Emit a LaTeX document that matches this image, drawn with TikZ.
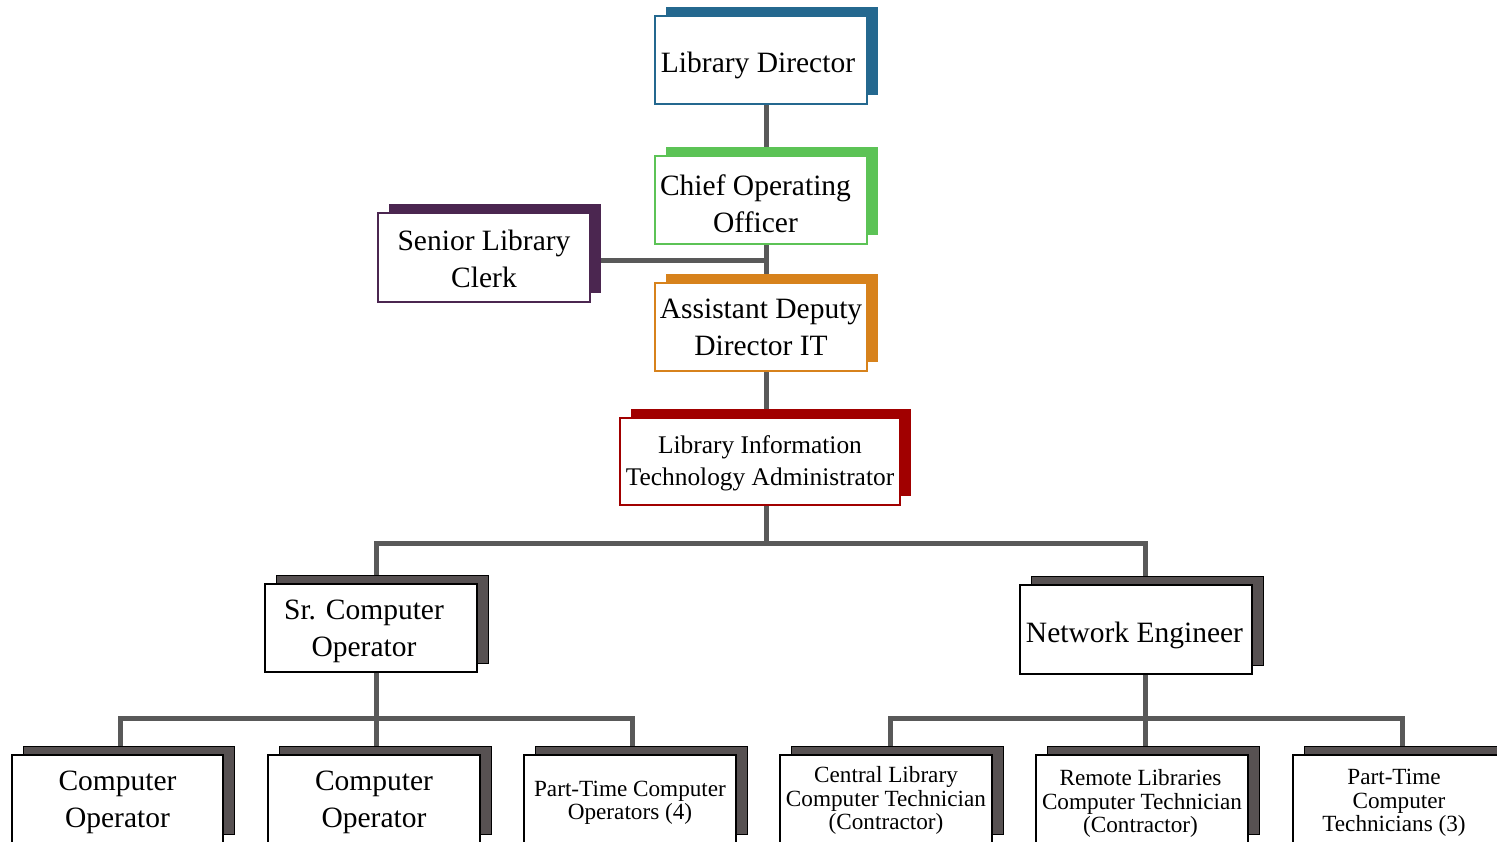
\documentclass[tikz,border=0pt]{standalone}
\usepackage{fontspec}
\setmainfont{Liberation Serif}
\usetikzlibrary{shadows,backgrounds}
\definecolor{cblue}{RGB}{36,104,143}
\definecolor{cgreen}{RGB}{92,195,86}
\definecolor{cpurple}{RGB}{75,38,80}
\definecolor{corange}{RGB}{215,130,28}
\definecolor{cred}{RGB}{161,0,0}
\definecolor{cgray}{RGB}{87,81,82}
\definecolor{cline}{RGB}{89,89,89}
\newcommand\fbig{\fontsize{29.5}{37}\selectfont}
\newcommand\fmid{\fontsize{25.4}{32}\selectfont}
\newcommand\fsml{\fontsize{23.2}{23.5}\selectfont}
\newcommand\mystr[1]{\rule{0pt}{#1pt}}
\newcommand\myrs[1]{\hspace*{#1pt}}
\tikzset{
  cbox/.style={draw=#1, fill=white, line width=1.6pt, inner sep=0pt,
    minimum width=212pt, minimum height=88pt, align=center, font=\fbig,
    copy shadow={shadow xshift=11pt, shadow yshift=9pt, fill=#1, draw=none}},
  gbox/.style={draw=black, fill=white, line width=1.4pt, inner sep=0pt,
    minimum width=212pt, minimum height=88pt, align=center, font=\fbig,
    copy shadow={shadow xshift=11pt, shadow yshift=9pt, fill=cgray, draw=black, line width=1pt}},
  conn/.style={draw=cline, line width=5pt}
}
\begin{document}
\begin{tikzpicture}[x=1pt,y=-1pt]
\useasboundingbox (0,0) rectangle (1497,841);
\node[cbox=cblue] (ld) at (761,60) {\mystr{32}Library Director\myrs{6}};
\node[cbox=cgreen] (coo) at (761,200) {\mystr{28.3}Chief Operating\myrs{11}\\Officer\myrs{11}};
\node[cbox=cpurple, minimum height=89pt] (slc) at (484,257.5) {\mystr{24.2}Senior Library\\Clerk};
\node[cbox=corange] (add) at (761,327) {Assistant Deputy\\Director IT};
\node[cbox=cred, minimum width=280pt, minimum height=87pt, font=\fmid] (lita) at (760,461.5) {\mystr{21.3}Library Information\\Technology Administrator};
\node[gbox] (sco) at (371,628) {\mystr{26}Sr. Computer\myrs{14}\\Operator\myrs{14}};
\node[gbox, minimum width=232pt, minimum height=89pt] (ne) at (1136,629.5) {\mystr{32}Network Engineer\myrs{3}};
\node[gbox, minimum width=211pt] (co1) at (117.5,799) {\mystr{26}Computer\\Operator};
\node[gbox] (co2) at (374,799) {\mystr{26}Computer\\Operator};
\node[gbox, font=\fsml] (ptco) at (630,799) {\mystr{23.4}Part-Time Computer\\Operators (4)};
\node[gbox, font=\fsml] (clct) at (886,799) {\mystr{19.8}Central Library\\Computer Technician\\(Contractor)};
\node[gbox, font=\fsml] (rlct) at (1142,799) {\mystr{25.8}Remote Libraries\myrs{3}\\Computer Technician\myrs{3}\\(Contractor)\myrs{3}};
\node[gbox, font=\fsml] (ptct) at (1399,799) {\mystr{23.8}Part-Time\myrs{10}\\Computer\myrs{10}\\Technicians (3)\myrs{10}};
\begin{pgfonlayer}{background}
\fill[white] (0,0) rectangle (1497,841);
\draw[conn] ([xshift=5pt]ld.south) -- ([xshift=5pt]coo.north);
\draw[conn] ([xshift=5pt]coo.south) -- ([xshift=5pt]add.north);
\draw[conn] ([yshift=-2.5pt]slc.east) -- ++(176,0);
\draw[conn] ([xshift=5pt]add.south) -- ([xshift=6pt]lita.north);
\draw[conn] ([xshift=6pt]lita.south) -- ++(0,38) -| ([xshift=5pt]sco.north);
\draw[conn] ([xshift=6pt]lita.south) -- ++(0,38) -| ([xshift=9pt]ne.north);
\draw[conn] ([xshift=5pt]sco.south) -- ++(0,46) -| ([xshift=2.5pt]co1.north);
\draw[conn] ([xshift=5pt]sco.south) -- ++(0,46) -| ([xshift=2pt]co2.north);
\draw[conn] ([xshift=5pt]sco.south) -- ++(0,46) -| ([xshift=2pt]ptco.north);
\draw[conn] ([xshift=9pt]ne.south) -- ++(0,44) -| ([xshift=4pt]clct.north);
\draw[conn] ([xshift=9pt]ne.south) -- ++(0,44) -| ([xshift=3pt]rlct.north);
\draw[conn] ([xshift=9pt]ne.south) -- ++(0,44) -| ([xshift=3pt]ptct.north);
\end{pgfonlayer}
\end{tikzpicture}
\end{document}
